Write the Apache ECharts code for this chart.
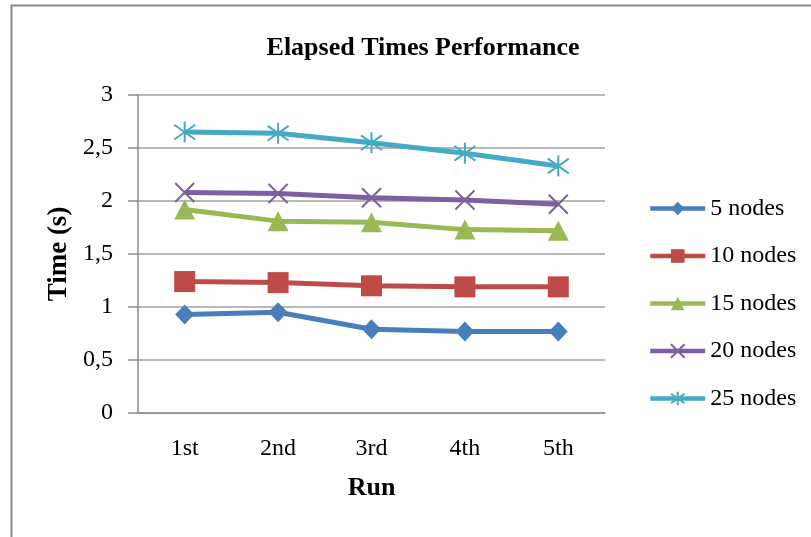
<!DOCTYPE html>
<html>
<head>
<meta charset="utf-8">
<script src="https://cdn.jsdelivr.net/npm/echarts@6/dist/echarts.min.js"></script>
<style>html,body{margin:0;padding:0;background:#fff;}#c{width:811px;height:537px;}</style>
</head>
<body>
<div id="c"></div>
<script>
const categories = ['1st', '2nd', '3rd', '4th', '5th'];
const seriesNames = ['5 nodes', '10 nodes', '15 nodes', '20 nodes', '25 nodes'];
const nodes5 = [0.93, 0.95, 0.79, 0.77, 0.77];
const nodes10 = [1.24, 1.23, 1.20, 1.19, 1.19];
const nodes15 = [1.92, 1.81, 1.80, 1.73, 1.72];
const nodes20 = [2.08, 2.07, 2.03, 2.01, 1.97];
const nodes25 = [2.65, 2.64, 2.55, 2.45, 2.33];
const yTicks = [0, 0.5, 1, 1.5, 2, 2.5, 3];

const colors = ['#4a7ebb', '#be4b48', '#98b954', '#7d60a0', '#46aac5'];
const symbols = [
  'diamond',
  'rect',
  'triangle',
  'path://M0,0 L20,20 M20,0 L0,20',
  'path://M10,0 L10,20 M2,3 L18,17 M18,3 L2,17'
];
const sizes = [[19, 20], [21, 21], [21, 20], [19, 19], [21, 21]];
const allData = [nodes5, nodes10, nodes15, nodes20, nodes25];
const serif = '"Liberation Serif", "Times New Roman", serif';

const chart = echarts.init(document.getElementById('c'), null, {renderer: 'canvas'});
chart.setOption({
  animation: false,
  backgroundColor: '#fff',
  graphic: [{
    type: 'rect', left: 9, top: 3, silent: true, z: -1,
    shape: {width: 900, height: 700},
    style: {fill: 'none', stroke: '#8a8a8a', lineWidth: 2}
  }],
  title: {
    text: 'Elapsed Times Performance',
    left: 418, top: 30, textAlign: 'center',
    textStyle: {fontFamily: serif, fontWeight: 'bold', fontSize: 26, color: '#000'}
  },
  legend: {
    orient: 'vertical', left: 643, top: 191,
    itemWidth: 55, itemHeight: 17, itemGap: 22.5,
    data: seriesNames,
    lineStyle: {width: 4.5},
    textStyle: {fontFamily: serif, fontSize: 24, color: '#000', lineHeight: 25}
  },
  grid: {left: 138, right: 206, top: 95, bottom: 124},
  xAxis: {
    type: 'category', data: categories, boundaryGap: true,
    name: 'Run', nameLocation: 'middle', nameGap: 62,
    nameTextStyle: {fontFamily: serif, fontWeight: 'bold', fontSize: 26, color: '#000'},
    axisLine: {lineStyle: {color: '#8c8c8c', width: 1.5}},
    axisTick: {show: false},
    axisLabel: {fontFamily: serif, fontSize: 24, color: '#000', margin: 24}
  },
  yAxis: {
    type: 'value', min: yTicks[0], max: yTicks[yTicks.length - 1], interval: 0.5,
    name: 'Time (s)', nameLocation: 'middle', nameGap: 64, nameRotate: 90,
    nameTextStyle: {fontFamily: serif, fontWeight: 'bold', fontSize: 27, color: '#000'},
    axisLine: {show: true, lineStyle: {color: '#8c8c8c', width: 1.5}},
    axisTick: {show: true, inside: false, length: 10, lineStyle: {color: '#8c8c8c', width: 1.5}},
    splitLine: {lineStyle: {color: '#a0a0a0', width: 1.5}},
    axisLabel: {fontFamily: serif, fontSize: 24, color: '#000', margin: 25,
      formatter: v => String(v).replace('.', ',')}
  },
  series: allData.map((d, i) => ({
    name: seriesNames[i], type: 'line', data: d,
    symbol: symbols[i], symbolSize: sizes[i], showAllSymbol: true,
    lineStyle: {color: colors[i], width: 5},
    itemStyle: {color: colors[i], borderColor: colors[i], borderWidth: i >= 3 ? 2 : 0},
    emphasis: {disabled: true}
  }))
});
</script>
</body>
</html>
